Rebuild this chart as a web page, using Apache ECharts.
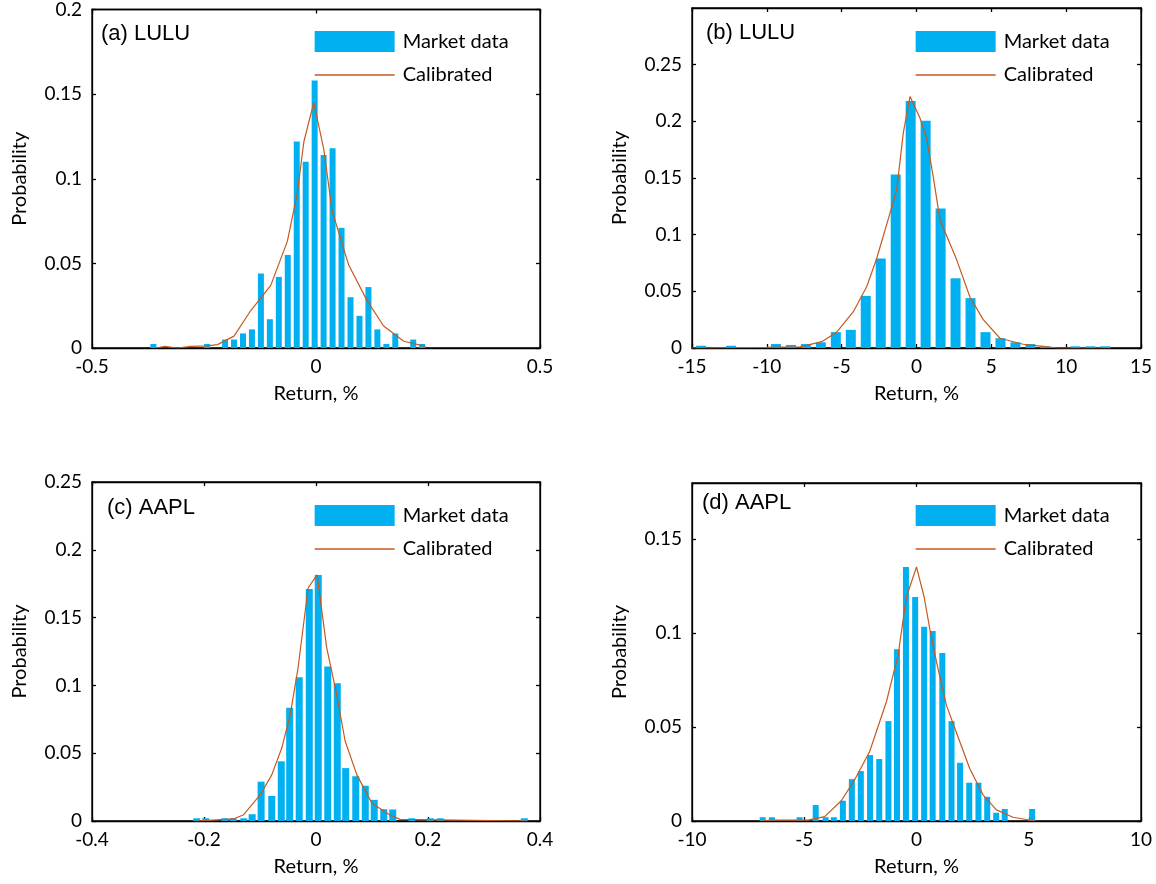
<!DOCTYPE html>
<html><head><meta charset="utf-8">
<script src="https://cdn.jsdelivr.net/npm/echarts@6/dist/echarts.min.js"></script>
<style>html,body{margin:0;padding:0;background:#fff}#c{width:1156px;height:884px}</style>
</head><body><div id="c"></div>
<script>
// ---- Panel (a) LULU ----
const aBarX = [-0.363,-0.243,-0.203,-0.183,-0.163,-0.143,-0.123,-0.103,-0.083,-0.063,-0.043,-0.023,-0.003,0.017,0.037,0.057,0.077,0.097,0.117,0.137,0.157,0.177,0.217,0.237];
const aBarY = [0.0024,0.0024,0.005,0.005,0.0086,0.011,0.044,0.017,0.042,0.055,0.122,0.110,0.158,0.114,0.118,0.071,0.030,0.019,0.036,0.011,0.0024,0.0086,0.005,0.0024];
const aCalX = [-0.358,-0.337,-0.31,-0.279,-0.242,-0.220,-0.183,-0.146,-0.101,-0.064,-0.042,-0.027,-0.005,0.017,0.036,0.073,0.114,0.151,0.196,0.244];
const aCalY = [0,0.001,0,0.001,0.0012,0.002,0.007,0.022,0.037,0.063,0.091,0.122,0.145,0.118,0.081,0.049,0.028,0.013,0.004,0.001];
// ---- Panel (b) LULU ----
const bBarX = [-14.39,-12.39,-9.39,-8.39,-7.39,-6.39,-5.39,-4.39,-3.39,-2.39,-1.39,-0.39,0.61,1.61,2.61,3.61,4.61,5.61,6.61,7.61,8.61,10.61,11.61,12.61];
const bBarY = [0.002,0.002,0.0035,0.0027,0.0035,0.005,0.014,0.016,0.046,0.079,0.153,0.218,0.2005,0.123,0.0615,0.044,0.014,0.0086,0.005,0.0035,0.0015,0.0015,0.0015,0.0015];
const bCalX = [-15,-10,-7.78,-6.33,-5.33,-4.22,-3.33,-2.66,-1.77,-1.32,-0.88,-0.43,0.23,0.68,1.12,1.57,2.68,3.57,4.46,5.58,7.13,8.47,9.36,13];
const bCalY = [0,0.0005,0.001,0.0056,0.014,0.032,0.054,0.079,0.119,0.14,0.19,0.222,0.203,0.185,0.151,0.113,0.078,0.045,0.025,0.0086,0.0033,0.0015,0,0];
// ---- Panel (c) AAPL ----
const cBarX = [-0.213,-0.197,-0.163,-0.148,-0.129,-0.114,-0.098,-0.079,-0.062,-0.047,-0.030,-0.012,0.004,0.021,0.038,0.053,0.071,0.088,0.104,0.121,0.137,0.171,0.204,0.222,0.372];
const cBarY = [0.002,0.002,0.002,0.002,0.002,0.005,0.029,0.0185,0.044,0.0835,0.106,0.171,0.1815,0.114,0.1015,0.039,0.033,0.026,0.0156,0.0087,0.0085,0.002,0.002,0.002,0.002];
const cCalX = [-0.213,-0.148,-0.130,-0.100,-0.079,-0.061,-0.046,-0.032,-0.014,0.002,0.019,0.037,0.052,0.073,0.100,0.132,0.150,0.377];
const cCalY = [0,0.0015,0.0044,0.019,0.034,0.054,0.0785,0.113,0.172,0.1815,0.128,0.093,0.059,0.034,0.013,0.0044,0.0012,0];
// ---- Panel (d) AAPL ----
const dBarX = [-6.85,-6.44,-5.21,-4.49,-4.05,-3.68,-3.28,-2.88,-2.48,-2.07,-1.66,-1.25,-0.87,-0.47,-0.06,0.34,0.72,1.15,1.56,1.94,2.35,2.76,3.15,3.55,3.93,5.15];
const dBarY = [0.002,0.002,0.002,0.0085,0.002,0.002,0.0108,0.0223,0.0266,0.0351,0.033,0.0532,0.0915,0.1353,0.1193,0.1034,0.1012,0.0895,0.0532,0.031,0.0204,0.0204,0.0129,0.0044,0.0064,0.0064];
const dCalX = [-6.92,-6.47,-4.84,-4.09,-3.35,-2.76,-2.09,-1.34,-0.82,-0.45,0,0.34,0.59,0.89,1.33,1.93,2.37,2.97,3.56,4.3,5.27];
const dCalY = [0,0.0005,0.0005,0.0023,0.0108,0.0218,0.0369,0.0635,0.0883,0.1193,0.1353,0.1193,0.1025,0.0848,0.0617,0.0422,0.028,0.0138,0.0059,0.002,0];

const panelLabels = ['(a) LULU','(b) LULU','(c) AAPL','(d) AAPL'];
const seriesNames = ['Market data','Calibrated'];
const xTitle = 'Return, %';
const yTitle = 'Probability';

const panels = [
  {barX:aBarX,barY:aBarY,calX:aCalX,calY:aCalY,xMin:-0.5,xMax:0.5,xInt:0.5,yMax:0.2,barW:6,
   grid:{left:92,top:9,width:448,height:339},label:[101,23],legend:[314,31]},
  {barX:bBarX,barY:bBarY,calX:bCalX,calY:bCalY,xMin:-15,xMax:15,xInt:5,yMax:0.3,barW:10,
   grid:{left:692,top:8,width:449,height:340},label:[706,22],legend:[915,31]},
  {barX:cBarX,barY:cBarY,calX:cCalX,calY:cCalY,xMin:-0.4,xMax:0.4,xInt:0.2,yMax:0.25,barW:7,
   grid:{left:92,top:482,width:448,height:339},label:[107,497],legend:[314,505]},
  {barX:dBarX,barY:dBarY,calX:dCalX,calY:dCalY,xMin:-10,xMax:10,xInt:5,yMax:0.18,barW:6,
   grid:{left:692,top:483,width:449,height:338},label:[702,492],legend:[915,505]}
];

const FONT = 'Lato';
const BAR_COLOR = '#00B0F0';
const LINE_COLOR = '#C55A1E';
const axisLineStyle = {color:'#000', width:1.3};
const tickStyle = {show:true, inside:true, length:4, lineStyle:{color:'#000', width:1.3}};

const option = {
  backgroundColor:'#fff',
  animation:false,
  title:[], grid:[], xAxis:[], yAxis:[], legend:[], series:[]
};

panels.forEach((p,i)=>{
  option.grid.push(Object.assign({show:true, borderColor:'#000', borderWidth:1.3, backgroundColor:'transparent'}, p.grid));
  option.title.push({text:panelLabels[i], left:p.label[0], top:p.label[1], padding:0,
    textStyle:{fontFamily:'Liberation Sans, Arial', fontSize:22, fontWeight:'normal', color:'#000'}});
  option.xAxis.push({type:'value', gridIndex:i, min:p.xMin, max:p.xMax, interval:p.xInt, position:'bottom',
    axisLine:{show:true, onZero:false, lineStyle:axisLineStyle}, axisTick:tickStyle,
    axisLabel:{color:'#000', fontFamily:FONT, fontSize:19, margin:9},
    splitLine:{show:false},
    name:xTitle, nameLocation:'middle', nameGap:36,
    nameTextStyle:{color:'#000', fontFamily:FONT, fontSize:20}});
  option.xAxis.push({type:'value', gridIndex:i, min:p.xMin, max:p.xMax, interval:p.xInt, position:'top',
    axisLine:{show:true, onZero:false, lineStyle:axisLineStyle}, axisTick:tickStyle,
    axisLabel:{show:false}, splitLine:{show:false}});
  option.yAxis.push({type:'value', gridIndex:i, min:0, max:p.yMax, interval:0.05, position:'left',
    axisLine:{show:true, onZero:false, lineStyle:axisLineStyle}, axisTick:tickStyle,
    axisLabel:{color:'#000', fontFamily:FONT, fontSize:19, margin:10, showMaxLabel:(p.yMax===0.2||p.yMax===0.25)},
    splitLine:{show:false},
    name:yTitle, nameLocation:'middle', nameGap:62,
    nameTextStyle:{color:'#000', fontFamily:FONT, fontSize:20}});
  option.yAxis.push({type:'value', gridIndex:i, min:0, max:p.yMax, interval:0.05, position:'right',
    axisLine:{show:true, onZero:false, lineStyle:axisLineStyle}, axisTick:tickStyle,
    axisLabel:{show:false}, splitLine:{show:false}});

  option.legend.push({left:p.legend[0], top:p.legend[1], orient:'vertical', padding:0,
    itemWidth:80, itemHeight:21, itemGap:13, selectedMode:false,
    textStyle:{fontFamily:FONT, fontSize:20, color:'#000', padding:[0,0,0,3]},
    data:[{name:seriesNames[0], icon:'rect'},
          {name:seriesNames[1], itemStyle:{opacity:0, borderWidth:0}, lineStyle:{color:LINE_COLOR, width:1.3, opacity:1}}]});

  option.series.push({type:'bar', name:seriesNames[0], xAxisIndex:2*i, yAxisIndex:2*i,
    barWidth:p.barW, itemStyle:{color:BAR_COLOR},
    data:p.barX.map((x,k)=>[x,p.barY[k]]), z:2});
  option.series.push({type:'line', name:seriesNames[1], xAxisIndex:2*i, yAxisIndex:2*i,
    symbol:'none', smooth:false, lineStyle:{color:LINE_COLOR, width:1.2}, itemStyle:{color:LINE_COLOR},
    data:p.calX.map((x,k)=>[x,p.calY[k]]), z:3});
});

const chart = echarts.init(document.getElementById('c'), null, {renderer:'canvas'});
chart.setOption(option);
</script>
</body></html>
